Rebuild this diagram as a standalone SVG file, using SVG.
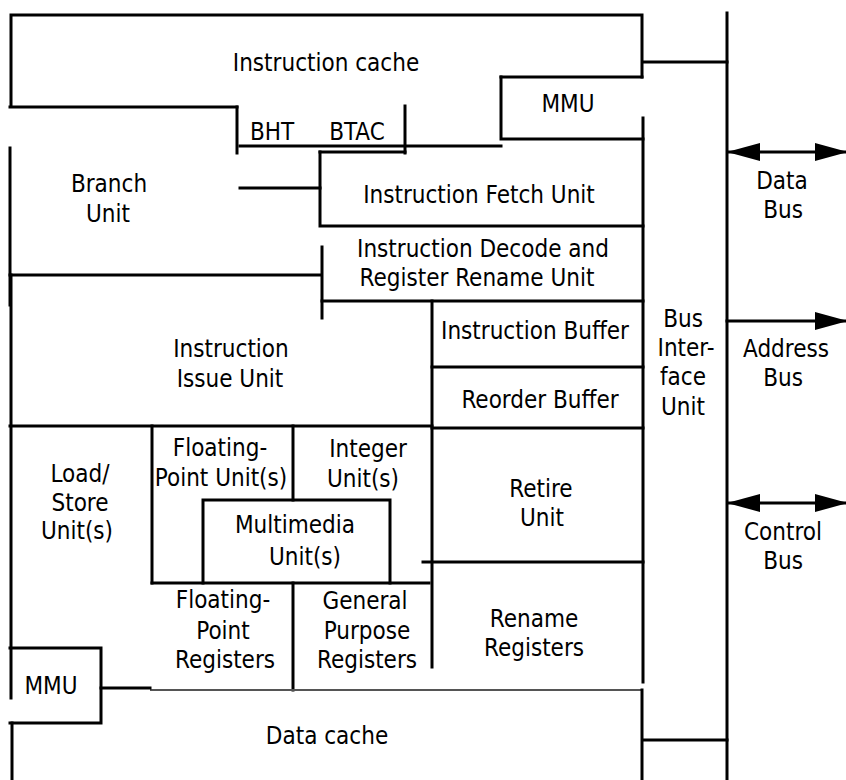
<svg xmlns="http://www.w3.org/2000/svg" width="846" height="780" viewBox="0 0 846 780">
<style>
.l{stroke:#000;stroke-width:3;fill:none;stroke-linecap:square}
.t{stroke:#555;stroke-width:2;fill:none}
text{font-family:"DejaVu Sans Condensed","DejaVu Sans",sans-serif;font-stretch:condensed;font-size:24px;fill:#000;text-anchor:middle}
</style>
<defs>
<marker id="ah" markerWidth="33" markerHeight="18" refX="31" refY="9" orient="auto-start-reverse" markerUnits="userSpaceOnUse">
<path d="M0,0 L33,9 L0,18 Z" fill="#000"/>
</marker>
</defs>
<rect width="846" height="780" fill="#fff"/>
<g id="icache">
<path class="l" d="M11,105 V15 H642 V77"/>
<path class="l" d="M10,107 H237"/>
<text x="326" y="71">Instruction cache</text>
</g>
<g id="bht-btac">
<path class="l" d="M237,107 V153"/>
<path class="l" d="M405,106 V153"/>
<path class="l" d="M240,146 H501"/>
<text x="272" y="140">BHT</text>
<text x="357" y="140">BTAC</text>
</g>
<g id="mmu-top">
<path class="l" d="M501,77 H642"/>
<path class="l" d="M501,77 V139 H643"/>
<text x="568" y="112">MMU</text>
</g>
<g id="branch">
<path class="l" d="M10,148 V305"/>
<text x="109" y="192">Branch</text>
<text x="108" y="222">Unit</text>
</g>
<g id="fetch">
<path class="l" d="M320,152 H405"/>
<path class="l" d="M320,152 V226 H643"/>
<text x="479" y="203">Instruction Fetch Unit</text>
</g>
<g id="decode">
<path class="l" d="M322,247 V318"/>
<path class="l" d="M322,301 H643"/>
<text x="483" y="257">Instruction Decode and</text>
<text x="477" y="286">Register Rename Unit</text>
</g>
<g id="issue">
<path class="l" d="M10,275 H320"/>
<path class="l" d="M11,275 V698"/>
<path class="l" d="M10,426 H432"/>
<text x="231" y="357">Instruction</text>
<text x="230" y="387">Issue Unit</text>
</g>
<g id="ibuf">
<path class="l" d="M432,301 V667"/>
<path class="l" d="M432,367 H643"/>
<text x="535" y="339">Instruction Buffer</text>
</g>
<g id="rob">
<path class="l" d="M432,428 H643"/>
<text x="540" y="408">Reorder Buffer</text>
</g>
<g id="loadstore">
<text x="80" y="482">Load/</text>
<text x="80" y="511">Store</text>
<text x="77" y="539">Unit(s)</text>
</g>
<g id="fpu">
<path class="l" d="M152,426 V583"/>
<path class="l" d="M293,426 V500"/>
<text x="220" y="456">Floating-</text>
<text x="221" y="486">Point Unit(s)</text>
</g>
<g id="int">
<text x="368" y="457">Integer</text>
<text x="363" y="487">Unit(s)</text>
</g>
<g id="mm">
<path class="l" d="M203,583 V500 H390 V583"/>
<text x="295" y="533">Multimedia</text>
<text x="305" y="565">Unit(s)</text>
</g>
<g id="fpregs">
<path class="l" d="M152,583 H429"/>
<path class="l" d="M293,583 V690"/>
<text x="223" y="608">Floating-</text>
<text x="223" y="639">Point</text>
<text x="225" y="668">Registers</text>
</g>
<g id="gpregs">
<text x="365" y="609">General</text>
<text x="367" y="639">Purpose</text>
<text x="367" y="668">Registers</text>
</g>
<g id="retire">
<path class="l" d="M423,562 H643"/>
<text x="541" y="497">Retire</text>
<text x="542" y="526">Unit</text>
</g>
<g id="rename">
<text x="534" y="627">Rename</text>
<text x="534" y="656">Registers</text>
</g>
<g id="mmu-bottom">
<path class="l" d="M10,648 H101 V723 H10"/>
<text x="51" y="694">MMU</text>
</g>
<g id="dcache">
<path class="t" d="M150,690 H642"/>
<path class="l" d="M642,690 V780"/>
<path class="l" d="M12,723 V780"/>
<text x="327" y="744">Data cache</text>
</g>
<g id="biu">
<path class="l" d="M643,118 V682"/>
<path class="l" d="M727,13 V780"/>
<text x="683" y="327">Bus</text>
<text x="686" y="356">Inter-</text>
<text x="683" y="385">face</text>
<text x="683" y="415">Unit</text>
</g>
<g id="buses">
<text x="782" y="189">Data</text>
<text x="783" y="218">Bus</text>
<text x="786" y="357">Address</text>
<text x="783" y="386">Bus</text>
<text x="783" y="540">Control</text>
<text x="783" y="569">Bus</text>
</g>
<g id="connectors">
<path class="l" d="M644,62 H727"/>
<path class="l" d="M240,188 H320"/>
<path class="l" d="M101,688 H150"/>
<path class="l" d="M643,740 H727"/>
<path class="l" d="M729,152 H846" marker-start="url(#ah)" marker-end="url(#ah)"/>
<path class="l" d="M727,321 H846" marker-end="url(#ah)"/>
<path class="l" d="M729,503 H846" marker-start="url(#ah)" marker-end="url(#ah)"/>
</g>
</svg>
